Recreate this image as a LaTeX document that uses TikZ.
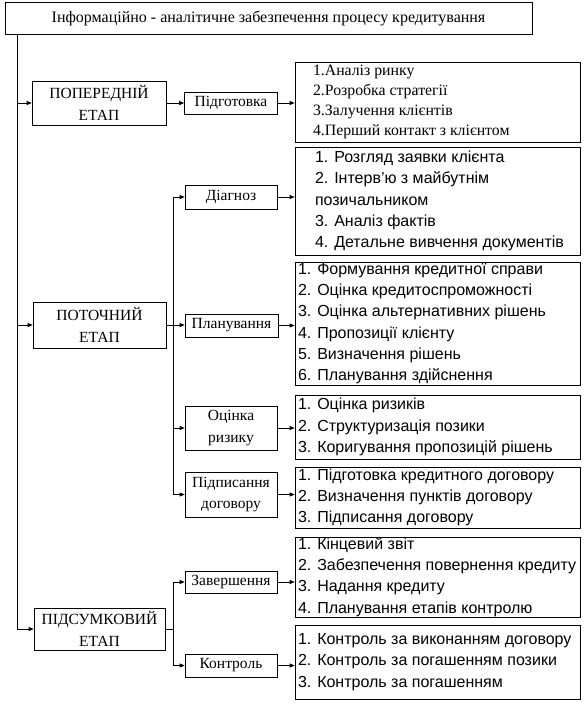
\documentclass[tikz,border=0pt]{standalone}
\usepackage{fontspec}
\setmainfont{Liberation Serif}
\setsansfont{Liberation Sans}
\usetikzlibrary{arrows.meta,calc}
\begin{document}
\begin{tikzpicture}[x=1pt,y=-1pt,
  line width=0.7pt,
  box/.style={draw, inner sep=0pt, align=center},
  serf/.style={font=\fontsize{15.5}{21.5}\selectfont},
  lst/.style={inner sep=0pt, anchor=west, align=left, font=\sffamily\fontsize{16}{21.3}\selectfont},
  lst1/.style={inner sep=0pt, anchor=west, align=left, font=\fontsize{15.8}{20}\selectfont},
  arr/.style={-{Triangle[length=5pt,width=4pt]}}]
\useasboundingbox (0,0) rectangle (585,704);

% top
\node[box, font=\fontsize{16}{20}\selectfont, minimum width=527pt, minimum height=32pt] (top) at (268.5,18) {Інформаційно - аналітичне забезпечення процесу кредитування};

% stages
\node[box, serf, minimum width=134pt, minimum height=44pt] (pop) at (99,103) {ПОПЕРЕДНІЙ\\ЕТАП};
\node[box, serf, minimum width=133pt, minimum height=46pt] (pot) at (99.5,325) {ПОТОЧНИЙ\\ЕТАП};
\node[box, serf, minimum width=131pt, minimum height=42pt] (pids) at (99.5,629) {ПІДСУМКОВИЙ\\ЕТАП};

% sub steps
\node[box, serf, minimum width=93pt, minimum height=22pt] (pidg) at (231,103) {Підготовка};
\node[box, serf, minimum width=92pt, minimum height=24pt] (diag) at (231,197) {Діагноз};
\node[box, serf, minimum width=93pt, minimum height=23pt] (plan) at (231.5,325.5) {Планування};
\node[box, serf, minimum width=92pt, minimum height=44pt] (ots) at (231,428) {Оцінка\\ризику};
\node[box, serf, minimum width=92pt, minimum height=45pt] (pidp) at (231,494.5) {Підписання\\договору};
\node[box, serf, minimum width=92pt, minimum height=22pt] (zav) at (231,582) {Завершення};
\node[box, serf, minimum width=92pt, minimum height=23pt] (kon) at (231,665.5) {Контроль};

% list boxes
\node[box, minimum width=285pt, minimum height=80pt] (l1) at (437.5,102) {};
\node[box, minimum width=285pt, minimum height=108pt] (l2) at (437.5,201) {};
\node[box, minimum width=285pt, minimum height=123pt] (l3) at (437.5,323.5) {};
\node[box, minimum width=285pt, minimum height=64pt] (l4) at (437.5,427) {};
\node[box, minimum width=285pt, minimum height=61pt] (l5) at (437.5,497.5) {};
\node[box, minimum width=285pt, minimum height=80pt] (l6) at (437.5,577) {};
\node[box, minimum width=285pt, minimum height=74pt] (l7) at (437.5,662) {};

\node[lst1] (l1t) at ([xshift=18pt]l1.west) {1.Аналіз ринку\\2.Розробка стратегії\\3.Залучення клієнтів\\4.Перший контакт з клієнтом};
\node[lst] (l2t) at ([xshift=20pt]l2.west) {1. Розгляд заявки клієнта\\2. Інтерв'ю з майбутнім\\позичальником\\3. Аналіз фактів\\4. Детальне вивчення документів};
\node[lst] (l3t) at ([xshift=3pt]l3.west) {1. Формування кредитної справи\\2. Оцінка кредитоспроможності\\3. Оцінка альтернативних рішень\\4. Пропозиції клієнту\\5. Визначення рішень\\6. Планування здійснення};
\node[lst] (l4t) at ([xshift=3pt]l4.west) {1. Оцінка ризиків\\2. Структуризація позики\\3. Коригування пропозицій рішень};
\node[lst] (l5t) at ([xshift=3pt]l5.west) {1. Підготовка кредитного договору\\2. Визначення пунктів договору\\3. Підписання договору};
\node[lst] (l6t) at ([xshift=3pt]l6.west) {1. Кінцевий звіт\\2. Забезпечення повернення кредиту\\3. Надання кредиту\\4. Планування етапів контролю};
\node[lst] (l7t) at ([xshift=3pt]l7.west) {1. Контроль за виконанням договору\\2. Контроль за погашенням позики\\3. Контроль за погашенням};

% main spine
\coordinate (m0) at (17,34);
\coordinate (m1) at (pids.west -| m0);
\draw (m0) -- (m1);
\draw[arr] (pop.west -| m0) -- (pop.west);
\draw[arr] (pot.west -| m0) -- (pot.west);
\draw[arr] (m1) -- (pids.west);

% preliminary
\draw[arr] (pop.east |- pidg.west) -- (pidg.west);
\draw[arr] (pidg.east) -- (pidg.east -| l1.west);

% current
\coordinate (bp) at (173,325);
\draw[arr] (pot.east) -- (pot.east -| plan.west);
\draw[arr] (bp) |- (diag.west);
\draw[arr] (bp) |- (ots.west);
\draw[arr] (bp) |- (pidp.west);
\draw[arr] (diag.east) -- (diag.east -| l2.west);
\draw[arr] (plan.east) -- (plan.east -| l3.west);
\draw[arr] (ots.east) -- (ots.east -| l4.west);
\draw[arr] (pidp.east) -- (pidp.east -| l5.west);

% final
\coordinate (bs) at (pids.east -| bp);
\draw (pids.east) -- (bs);
\draw[arr] (bs) |- (zav.west);
\draw[arr] (bs) |- (kon.west);
\draw[arr] (zav.east) -- (zav.east -| l6.west);
\draw[arr] (kon.east) -- (kon.east -| l7.west);
\end{tikzpicture}
\end{document}
